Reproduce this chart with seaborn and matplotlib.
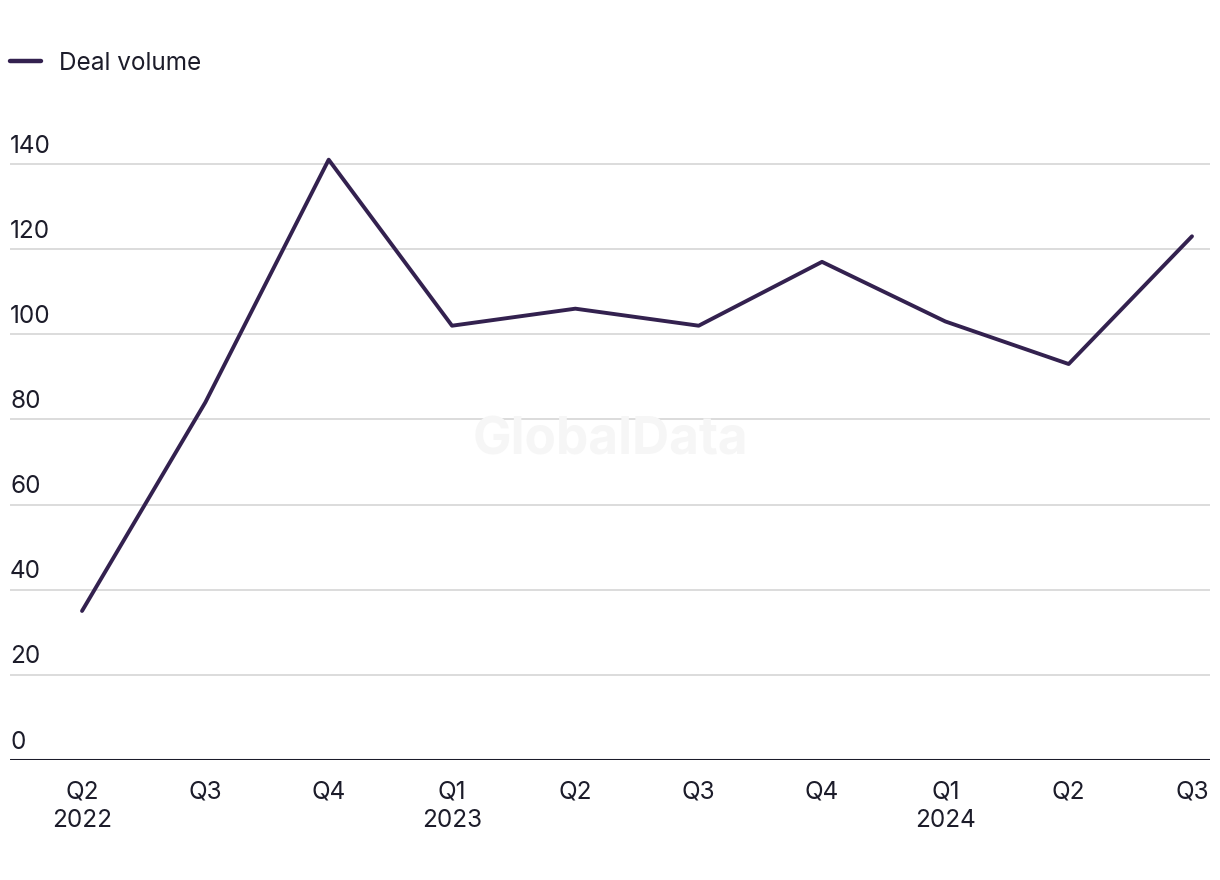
import matplotlib
matplotlib.use("Agg")
import matplotlib.pyplot as plt
import matplotlib.transforms as mtransforms
import seaborn as sns
import pandas as pd

# data
quarters = ["Q2\n2022", "Q3", "Q4", "Q1\n2023", "Q2", "Q3", "Q4", "Q1\n2024", "Q2", "Q3"]
deal_volume = [35, 84, 141, 102, 106, 102, 117, 103, 93, 123]
y_ticks = [0, 20, 40, 60, 80, 100, 120, 140]

df = pd.DataFrame({"pos": range(len(quarters)), "volume": deal_volume})

sns.set_style("white")
plt.rcParams["font.family"] = ["Inter", "DejaVu Sans"]

line_color = "#33214f"
text_color = "#1c1c2a"
fs = 17.5

fig = plt.figure(figsize=(12.2, 8.8), dpi=100)
ax = fig.add_axes([0.0082, 0.1364, 0.9836, 0.7257])

# grid lines
for v in y_ticks[1:]:
    ax.axhline(v, color="#d9d9d9", lw=1.3, zorder=0)
ax.axhline(0, color="#1c1c2a", lw=2.2, zorder=1)

sns.lineplot(data=df, x="pos", y="volume", ax=ax, color=line_color,
             lw=2.8, legend=False, zorder=3)

ax.set_xlim(-0.584, 9.146)
ax.set_ylim(0, 150)
sns.despine(ax=ax, left=True, bottom=True, top=True, right=True)

# y labels sit inside the plot, above each grid line
trans = mtransforms.blended_transform_factory(ax.transAxes, ax.transData)
for v in y_ticks:
    ax.text(0, v + 1.5, str(v), transform=trans, ha="left", va="bottom",
            fontsize=fs, color=text_color)
ax.set_yticks([])

ax.set_xticks(range(len(quarters)))
ax.set_xticklabels(quarters, fontsize=fs, color=text_color, linespacing=1.3)
ax.tick_params(axis="x", length=0, pad=15)
ax.set_xlabel("")
ax.set_ylabel("")

# watermark
ax.text(0.5, 75, "GlobalData", transform=trans, ha="center",
        va="center", fontsize=37, fontweight="bold", color="#f6f6f6", zorder=0)

# legend
fig.legend(handles=[plt.Line2D([], [], color=line_color, lw=3.2)],
           labels=["Deal volume"], loc="center left",
           bbox_to_anchor=(10 / 1220, 1 - 63 / 880), frameon=False, fontsize=fs,
           handlelength=1.28, handletextpad=0.74, borderaxespad=0, borderpad=0,
           labelcolor=text_color)

fig.savefig("out.png", dpi=100)
